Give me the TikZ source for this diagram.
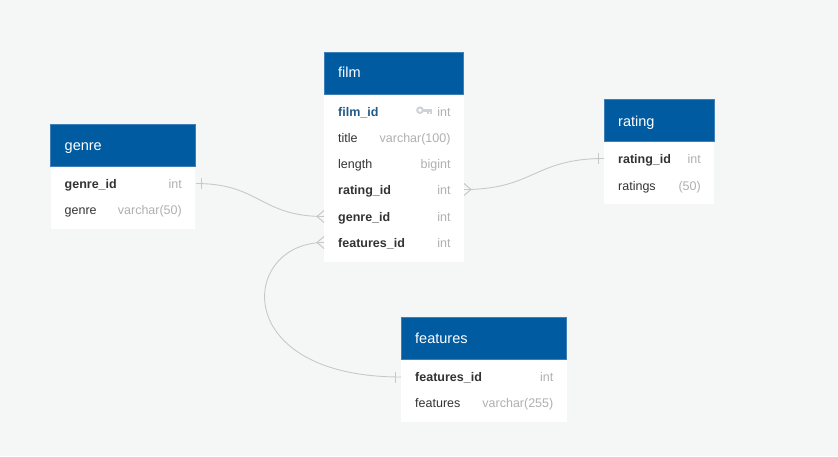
\documentclass[tikz,border=0pt]{standalone}
\usepackage{fontspec}
\setmainfont{Liberation Sans}
\definecolor{bgc}{HTML}{F5F7F7}
\definecolor{hdr}{HTML}{005BA1}
\definecolor{hdredge}{HTML}{3F7FB5}
\definecolor{conn}{HTML}{C8C8C8}
\definecolor{typec}{HTML}{B0B0B0}
\definecolor{namec}{HTML}{333333}
\definecolor{pkc}{HTML}{1F5A8A}
\definecolor{keyc}{HTML}{CFD3D6}
\tikzset{
  rowname/.style={anchor=base west,inner sep=0pt,text=namec,font=\fontsize{12.5}{14}\selectfont},
  keyname/.style={rowname,font=\fontsize{12.5}{14}\selectfont\bfseries},
  pkname/.style={keyname,text=pkc},
  rowtype/.style={anchor=base east,inner sep=0pt,text=typec,font=\fontsize{12.5}{14}\selectfont},
  headlabel/.style={anchor=base west,inner sep=0pt,text=white,font=\fontsize{14.5}{16}\selectfont},
  rel/.style={draw=conn,line width=.9pt},
  relmark/.style={draw=conn,line width=1pt}
}
\begin{document}
\begin{tikzpicture}[x=1pt,y=-1pt]
\useasboundingbox (0,0) rectangle (838,456);
\fill[bgc] (0,0) rectangle (838,456);
% genre
\fill[white] (50.5,165.5) rectangle (195,229);
\draw[fill=hdr,draw=hdredge,line width=.4pt] (50.5,123.7) rectangle (194.8,165.7);
\node[headlabel] (genreT) at (64.5,150) {genre};
\node[keyname] (genreId) at (64.5,188) {genre\_id};
\node[rowtype] (genreIdT) at (182,188) {int};
\node[rowname] (genreG) at (64.5,214) {genre};
\node[rowtype] (genreGT) at (182,214) {varchar(50)};
% film
\fill[white] (324,93.5) rectangle (463.7,262);
\draw[fill=hdr,draw=hdredge,line width=.4pt] (324.2,51.7) rectangle (463.5,93.7);
\node[headlabel] (filmT) at (338,77.5) {film};
\node[pkname] (filmId) at (338,116) {film\_id};
\node[rowtype] (filmIdT) at (450.7,116) {int};
\node[rowname] (filmTitle) at (338,142) {title};
\node[rowtype] (filmTitleT) at (450.7,142) {varchar(100)};
\node[rowname] (filmLen) at (338,168) {length};
\node[rowtype] (filmLenT) at (450.7,168) {bigint};
\node[keyname] (filmRate) at (338,194) {rating\_id};
\node[rowtype] (filmRateT) at (450.7,194) {int};
\node[keyname] (filmGenre) at (338,221) {genre\_id};
\node[rowtype] (filmGenreT) at (450.7,221) {int};
\node[keyname] (filmFeat) at (338,247) {features\_id};
\node[rowtype] (filmFeatT) at (450.7,247) {int};
% key icon
\draw[keyc,line width=2pt] (420,110.2) circle (2.8);
\fill[keyc] (422,108.8) rectangle (432,111.6);
\fill[keyc] (426.5,111) rectangle (428.7,114);
\fill[keyc] (429.8,111) rectangle (432,114);
% rating
\fill[white] (604,140.5) rectangle (714.3,204);
\draw[fill=hdr,draw=hdredge,line width=.4pt] (604.2,98.7) rectangle (714.1,140.7);
\node[headlabel] (rateT) at (618,126) {rating};
\node[keyname] (rateId) at (618,163) {rating\_id};
\node[rowtype] (rateIdT) at (701,163) {int};
\node[rowname] (rateR) at (618,190) {ratings};
\node[rowtype] (rateRT) at (701,190) {(50)};
% features
\fill[white] (401,358.5) rectangle (566.7,422);
\draw[fill=hdr,draw=hdredge,line width=.4pt] (401.2,316.7) rectangle (566.5,358.7);
\node[headlabel] (featT) at (415,343) {features};
\node[keyname] (featId) at (415,381) {features\_id};
\node[rowtype] (featIdT) at (553.5,381) {int};
\node[rowname] (featF) at (415,407) {features};
\node[rowtype] (featFT) at (553.5,407) {varchar(255)};
% connector ends
\coordinate (gS) at (196,183.5);
\coordinate (gE) at (324,216.5);
\coordinate (rS) at (464,189.5);
\coordinate (rE) at (604,158.5);
\coordinate (fS) at (324,242.5);
\coordinate (fE) at (401,377);
% connectors
\draw[rel] (gS) .. controls (260,183.5) and (260,216.5) .. (gE);
\draw[rel] (rS) .. controls (534,189.5) and (534,158.5) .. (rE);
\draw[rel] (fS) .. controls (240,242.5) and (228,377) .. (fE);
% one marks
\draw[relmark] (201.5,178) -- (201.5,189);
\draw[relmark] (598.5,153) -- (598.5,164);
\draw[relmark] (395.5,371.5) -- (395.5,382.5);
% crow feet
\draw[relmark] (324,210.5) -- (317,216.5) -- (324,222.5);
\draw[relmark] (324,236.5) -- (317,242.5) -- (324,248.5);
\draw[relmark] (464,183.5) -- (471,189.5) -- (464,195.5);
\end{tikzpicture}
\end{document}
